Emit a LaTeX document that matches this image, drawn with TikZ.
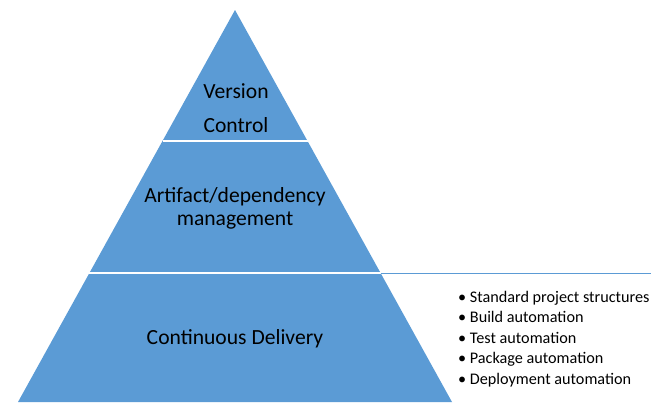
\documentclass[tikz,border=0pt]{standalone}
\usepackage{fontspec}
\setmainfont{Carlito}
\definecolor{tierblue}{HTML}{5B9BD5}
\begin{document}
\begin{tikzpicture}[x=1pt,y=-1pt,
  tiertext/.style={font=\fontsize{21.6}{34}\selectfont, text=black, align=center, inner sep=0pt},
  divider/.style={white, line width=1.6pt},
  bullets/.style={font=\fontsize{16.2}{20.5}\selectfont, text=black, align=left, anchor=north west, inner sep=0pt}]
  \useasboundingbox (0,0) rectangle (660,402);
  % pyramid body
  \coordinate (apex) at (235,10);
  \coordinate (bl) at (18,402);
  \coordinate (br) at (452,402);
  \fill[tierblue] (apex) -- (br) -- (bl) -- cycle;
  % tier dividers
  \coordinate (d1l) at (162.5,141);
  \coordinate (d1r) at (307.5,141);
  \coordinate (d2l) at (89.4,273);
  \coordinate (d2r) at (380.6,273);
  \draw[divider] (d1l) -- (d1r);
  \draw[divider] (d2l) -- (d2r);
  % leader line to the list
  \coordinate (leadend) at (651,273);
  \draw[tierblue, line width=1pt] (d2r) -- (leadend);
  % tier labels
  \node[tiertext, font=\fontsize{21.6}{34}\selectfont] (vc) at (236,108) {Version\\Control};
  \node[tiertext, font=\fontsize{21.6}{23.5}\selectfont] (adm) at (235,208.5) {Artifact/dependency\\management};
  \node[tiertext] (cd) at (235,339) {Continuous Delivery};
  % list of practices
  \node[bullets] (list) at (458,291) {%
    \textbullet\ Standard project structures\\
    \textbullet\ Build automation\\
    \textbullet\ Test automation\\
    \textbullet\ Package automation\\
    \textbullet\ Deployment automation};
\end{tikzpicture}
\end{document}
